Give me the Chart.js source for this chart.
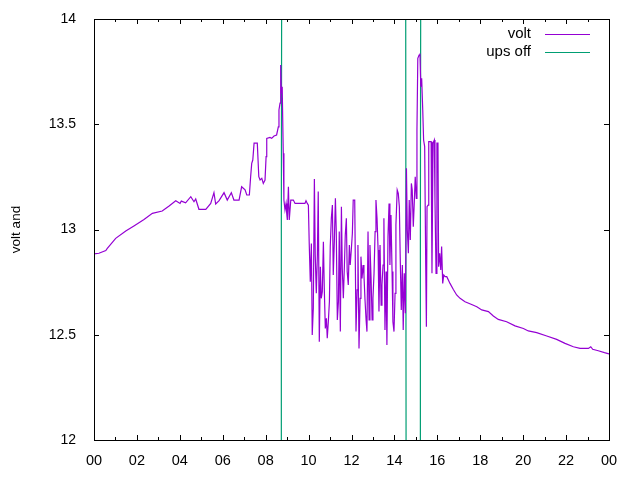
<!DOCTYPE html>
<html>
<head>
<meta charset="utf-8">
<script src="https://cdn.jsdelivr.net/npm/chart.js@4"></script>
<style>
  body { margin: 0; background: #fff; }
  #wrap { width: 640px; height: 480px; }
</style>
</head>
<body>
<div id="wrap"><canvas id="myChart" width="640" height="480"></canvas></div>
<script>
// hours of day (0..24) and battery voltage
const voltHours = [
  0.00, 0.23, 0.55, 0.62, 1.01, 1.48, 1.86, 2.33, 2.72, 3.18, 3.50, 3.81, 4.01, 4.07, 4.27, 4.51, 4.66, 4.74, 4.89, 5.21,
  5.44, 5.59, 5.67, 5.83, 6.06, 6.21, 6.40, 6.52, 6.76, 6.88, 7.04, 7.12, 7.24, 7.30, 7.35, 7.40, 7.46, 7.61, 7.68, 7.74,
  7.82, 7.89, 7.97, 8.02, 8.05, 8.20, 8.28, 8.39, 8.51, 8.59, 8.62, 8.67, 8.70, 8.73, 8.77, 8.82, 8.85, 8.90, 8.95, 8.98,
  9.01, 9.06, 9.10, 9.17, 9.29, 9.37, 9.83, 9.88, 9.94, 9.99, 10.03, 10.08, 10.13, 10.17, 10.22, 10.27, 10.31, 10.36, 10.41, 10.45,
  10.50, 10.55, 10.59, 10.64, 10.69, 10.73, 10.78, 10.83, 10.87, 10.92, 10.97, 11.01, 11.06, 11.11, 11.15, 11.20, 11.25, 11.29, 11.34, 11.39,
  11.43, 11.48, 11.53, 11.57, 11.62, 11.67, 11.71, 11.76, 11.80, 11.85, 11.90, 11.94, 11.99, 12.04, 12.08, 12.15, 12.21, 12.26, 12.30, 12.35,
  12.40, 12.44, 12.49, 12.54, 12.58, 12.63, 12.68, 12.72, 12.77, 12.82, 12.86, 12.91, 12.96, 13.00, 13.05, 13.10, 13.14, 13.19, 13.24, 13.28,
  13.33, 13.38, 13.42, 13.47, 13.51, 13.56, 13.61, 13.65, 13.70, 13.75, 13.79, 13.84, 13.89, 13.93, 13.98, 14.03, 14.07, 14.13, 14.18, 14.23,
  14.27, 14.32, 14.37, 14.41, 14.46, 14.51, 14.56, 14.60, 14.65, 14.69, 14.74, 14.79, 14.83, 14.88, 14.93, 14.97, 15.02, 15.05, 15.09, 15.15,
  15.19, 15.23, 15.27, 15.32, 15.36, 15.41, 15.46, 15.49, 15.52, 15.57, 15.60, 15.71, 15.75, 15.80, 15.86, 15.89, 15.94, 15.98, 16.03, 16.06,
  16.11, 16.16, 16.20, 16.25, 16.30, 16.36, 16.44, 16.59, 16.74, 16.90, 17.06, 17.29, 17.60, 17.84, 18.07, 18.38, 18.61, 18.84, 19.23, 19.62,
  20.01, 20.24, 20.63, 21.10, 21.56, 21.95, 22.34, 22.65, 23.04, 23.15, 23.24, 23.50, 23.79, 24.00
];
const voltValues = [
  12.884, 12.887, 12.900, 12.910, 12.958, 12.993, 13.017, 13.048, 13.077, 13.088, 13.112, 13.137, 13.124, 13.135, 13.127, 13.156, 13.132, 13.145, 13.096, 13.096,
  13.124, 13.175, 13.121, 13.137, 13.175, 13.140, 13.175, 13.140, 13.140, 13.203, 13.188, 13.164, 13.164, 13.251, 13.314, 13.330, 13.410, 13.410, 13.251, 13.235,
  13.243, 13.219, 13.235, 13.346, 13.433, 13.437, 13.433, 13.444, 13.449, 13.488, 13.568, 13.600, 13.781, 13.647, 13.678, 13.362, 13.140, 13.093, 13.124, 13.077,
  13.045, 13.203, 13.045, 13.140, 13.140, 13.124, 13.124, 13.137, 13.124, 13.116, 12.934, 12.752, 12.934, 12.499, 12.626, 13.240, 12.879, 12.697, 12.879, 13.180,
  12.467, 12.823, 12.673, 12.705, 12.942, 12.728, 12.530, 12.578, 12.483, 12.562, 12.657, 12.919, 13.053, 13.116, 12.784, 12.942, 13.148, 12.990, 12.570, 12.657,
  12.990, 12.515, 13.108, 12.815, 12.673, 12.831, 12.974, 13.053, 12.800, 12.736, 12.926, 12.831, 12.903, 12.981, 13.140, 13.140, 12.515, 12.713, 12.926, 12.435,
  12.673, 12.871, 12.768, 12.831, 12.784, 12.665, 12.570, 12.515, 12.990, 12.570, 12.926, 12.776, 12.570, 12.673, 12.792, 12.990, 13.140, 13.053, 12.903, 12.610,
  12.926, 12.641, 12.736, 12.831, 13.053, 12.523, 12.800, 12.451, 12.966, 13.124, 12.831, 13.069, 12.800, 12.562, 12.515, 12.697, 13.021, 13.188, 13.172, 13.108,
  12.871, 12.618, 12.831, 12.523, 12.792, 12.602, 13.291, 12.998, 12.887, 13.140, 12.950, 13.219, 13.188, 13.013, 13.140, 13.251, 13.148, 13.473, 13.813, 13.829,
  13.836, 13.678, 13.718, 13.568, 13.425, 13.394, 12.823, 12.538, 13.108, 13.116, 13.417, 13.417, 12.792, 13.410, 13.425, 13.140, 12.792, 13.410, 13.410, 12.823,
  12.887, 12.808, 12.919, 12.744, 12.784, 12.776, 12.776, 12.744, 12.716, 12.689, 12.673, 12.657, 12.644, 12.633, 12.618, 12.610, 12.589, 12.573, 12.562, 12.542,
  12.530, 12.518, 12.510, 12.494, 12.478, 12.459, 12.443, 12.435, 12.435, 12.443, 12.431, 12.424, 12.415, 12.409
];

// ups state trace (low = below the plot, high = above it)
const upsHours = [0, 8.72, 8.73, 8.77, 14.51, 14.56, 15.20, 15.21, 15.25, 24];
const upsValues = [10, 10, 13, 16, 16, 10, 10, 13, 16, 16];

const xTickLabels = ["00", "02", "04", "06", "08", "10", "12", "14", "16", "18", "20", "22", "00"];
const yTickLabels = ["12", "12.5", "13", "13.5", "14"];

Chart.defaults.font.family = "'Liberation Sans', Arial, sans-serif";
Chart.defaults.font.size = 14;
Chart.defaults.color = "#000";

// gnuplot style border with inward tics on all four sides
const marco = {
	id: "marco",
	afterDatasetsDraw(chart) {
		const { ctx, chartArea: a, scales } = chart;
		const x = scales.x;
		const y = scales.y;
		ctx.save();
		ctx.strokeStyle = "#000";
		ctx.lineWidth = 1;
		ctx.beginPath();
		for (let h = x.min; h <= x.max; h++) {
			const px = Math.round(x.getPixelForValue(h)) + 0.5;
			const len = h % 2 ? 3 : 5;
			ctx.moveTo(px, a.bottom);
			ctx.lineTo(px, a.bottom - len);
			ctx.moveTo(px, a.top);
			ctx.lineTo(px, a.top + len);
		}
		y.ticks.forEach((t) => {
			const py = Math.round(y.getPixelForValue(t.value)) + 0.5;
			ctx.moveTo(a.left, py);
			ctx.lineTo(a.left + 5, py);
			ctx.moveTo(a.right, py);
			ctx.lineTo(a.right - 5, py);
		});
		ctx.stroke();
		ctx.strokeRect(Math.round(a.left) + 0.5, Math.round(a.top) + 0.5, Math.round(a.right - a.left), Math.round(a.bottom - a.top));
		ctx.restore();
	},
	afterDraw(chart) {
		// key at the top right: text first, line sample after it
		const { ctx, chartArea: a } = chart;
		ctx.save();
		ctx.font = "15px 'Liberation Sans', Arial, sans-serif";
		ctx.textAlign = "right";
		ctx.textBaseline = "middle";
		chart.data.datasets.forEach((ds, i) => {
			const py = a.top + 14.5 + i * 18.5;
			ctx.fillStyle = "#000";
			ctx.fillText(ds.label, a.right - 78, py);
			ctx.strokeStyle = ds.borderColor;
			ctx.lineWidth = 1;
			ctx.beginPath();
			ctx.moveTo(a.right - 64, Math.round(py) + 0.5);
			ctx.lineTo(a.right - 19, Math.round(py) + 0.5);
			ctx.stroke();
		});
		ctx.restore();
	},
};

const grafico = () => {
	const data = {
		datasets: [
			{
				label: "volt",
				data: voltHours.map((h, i) => ({ x: h, y: voltValues[i] })),
				borderColor: "#9400D3",
				backgroundColor: "#9400D3",
				borderWidth: 1.2,
				pointRadius: 0,
				tension: 0,
				fill: false,
			},
			{
				label: "ups off",
				data: upsHours.map((h, i) => ({ x: h, y: upsValues[i] })),
				borderColor: "#009E73",
				backgroundColor: "#009E73",
				borderWidth: 1.2,
				pointRadius: 0,
				tension: 0,
				fill: false,
			},
		],
	};

	const config = {
		type: "line",
		data,
		options: {
			responsive: false,
			animation: false,
			layout: {
				padding: { top: 19, right: 31, left: 0, bottom: 0 },
			},
			plugins: {
				legend: { display: false },
				tooltip: { enabled: false },
			},
			scales: {
				x: {
					type: "linear",
					min: 0,
					max: 24,
					grid: { display: false, drawTicks: false },
					border: { display: false },
					ticks: {
						stepSize: 2,
						padding: 12,
						maxRotation: 0,
						autoSkip: false,
						font: { size: 14.5 },
						callback: (v, i) => xTickLabels[i],
					},
					afterFit: (scale) => {
						scale.height = 40;
						scale.paddingLeft = 0;
						scale.paddingRight = 0;
					},
				},
				y: {
					min: 12,
					max: 14,
					grid: { display: false, drawTicks: false },
					border: { display: false },
					ticks: {
						stepSize: 0.5,
						padding: 18,
						font: { size: 14 },
						callback: (v, i) => yTickLabels[i],
					},
					title: {
						display: true,
						text: "volt and",
						font: { size: 13.5 },
						padding: { top: 8, bottom: 0 },
					},
					afterFit: (scale) => {
						scale.width = 94;
						scale.paddingTop = 0;
						scale.paddingBottom = 0;
					},
				},
			},
		},
		plugins: [marco],
	};

	new Chart(document.getElementById("myChart"), config);
};
grafico();
</script>
</body>
</html>
